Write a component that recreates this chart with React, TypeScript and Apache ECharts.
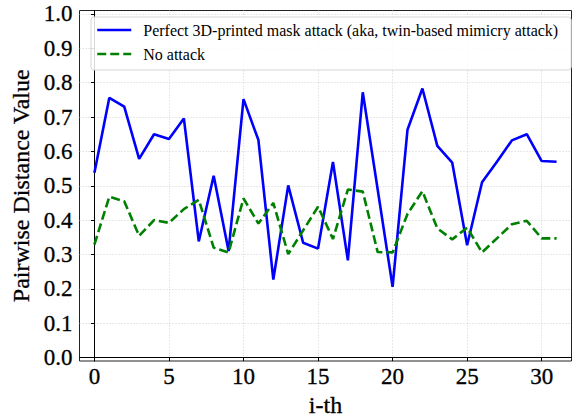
import React, { useEffect, useRef } from "react";
import * as echarts from "echarts";

const indices: number[] = Array.from({ length: 32 }, (_, i) => i);
const maskAttack: number[] = [0.538, 0.756, 0.730, 0.578, 0.650, 0.636, 0.696, 0.338, 0.529, 0.310, 0.752, 0.633, 0.227, 0.501, 0.334, 0.317, 0.569, 0.283, 0.772, 0.489, 0.206, 0.663, 0.783, 0.616, 0.567, 0.327, 0.510, 0.570, 0.632, 0.650, 0.572, 0.570];
const noAttack: number[] = [0.329, 0.468, 0.455, 0.354, 0.400, 0.392, 0.432, 0.459, 0.320, 0.306, 0.463, 0.390, 0.450, 0.301, 0.370, 0.439, 0.345, 0.489, 0.483, 0.307, 0.306, 0.418, 0.484, 0.376, 0.344, 0.378, 0.306, 0.347, 0.388, 0.398, 0.347, 0.347];
const xTicks: number[] = [0, 5, 10, 15, 20, 25, 30];
const yTicks: number[] = [0, 0.1, 0.2, 0.3, 0.4, 0.5, 0.6, 0.7, 0.8, 0.9, 1.0];
const seriesNames: string[] = ["Perfect 3D-printed mask attack (aka, twin-based mimicry attack)", "No attack"];
const xTitle = "i-th";
const yTitle = "Pairwise Distance Value";

const FONT = "Liberation Serif";

export default function App() {
  const ref = useRef<HTMLDivElement>(null);
  useEffect(() => {
    if (!ref.current) return;
    const chart = echarts.init(ref.current, null, { renderer: "svg" });
    const gridLine = { show: true, lineStyle: { color: "#c8c8c8", width: 0.8, type: [1, 2] as any } };
    const tickText = { fontFamily: FONT, fontSize: 23, color: "#000", textBorderColor: "#000", textBorderWidth: 0.3 };
    const titleText = { fontFamily: FONT, fontSize: 24, color: "#000", textBorderColor: "#000", textBorderWidth: 0.3 };
    chart.setOption({
      animation: false,
      backgroundColor: "#ffffff",
      textStyle: { fontFamily: FONT },
      grid: {
        left: 79.5,
        right: 7.5,
        top: 10.5,
        bottom: 56,
        containLabel: false,
        outerBoundsMode: "none",
        show: true,
        borderColor: "#222",
        borderWidth: 1,
        backgroundColor: "transparent",
      },
      legend: {
        orient: "vertical",
        left: 91,
        top: 17,
        data: seriesNames,
        itemWidth: 34,
        itemHeight: 14,
        itemGap: 8,
        padding: [5, 13, 8, 5],
        backgroundColor: "rgba(255,255,255,0.85)",
        borderColor: "#d6d6d6",
        borderWidth: 1,
        borderRadius: 3,
        itemStyle: { opacity: 0, color: "transparent", borderWidth: 0 },
        lineStyle: { width: 2.5 },
        textStyle: { fontFamily: FONT, fontSize: 16, color: "#000", padding: [0, 0, 0, 7] },
      },
      xAxis: {
        type: "value",
        min: -1,
        max: 32,
        name: xTitle,
        nameLocation: "middle",
        nameGap: 28,
        nameTextStyle: titleText,
        axisLine: { show: true, lineStyle: { color: "#000", width: 1 } },
        axisTick: { show: true, length: 3.5, customValues: xTicks, lineStyle: { color: "#000" } },
        axisLabel: {
          customValues: xTicks,
          margin: 4,
          ...tickText,
        },
        splitLine: gridLine,
      },
      yAxis: {
        type: "value",
        min: -0.01,
        max: 1.01,
        name: yTitle,
        nameLocation: "middle",
        nameGap: 41,
        nameTextStyle: titleText,
        axisLine: { show: true, lineStyle: { color: "#000", width: 1 } },
        axisTick: { show: true, length: 3.5, customValues: yTicks, lineStyle: { color: "#000" } },
        axisLabel: {
          customValues: yTicks,
          margin: 7,
          ...tickText,
          formatter: (v: number) => v.toFixed(1),
        },
        splitLine: gridLine,
      },
      series: [
        {
          name: seriesNames[0],
          type: "line",
          data: indices.map((i) => [i, maskAttack[i]]),
          showSymbol: false,
          symbol: "none",
          lineStyle: { color: "#0000ff", width: 2.6 },
          itemStyle: { color: "#0000ff" },
        },
        {
          name: seriesNames[1],
          type: "line",
          data: indices.map((i) => [i, noAttack[i]]),
          showSymbol: false,
          symbol: "none",
          lineStyle: { color: "#008000", width: 2.6, type: [9, 4] as any },
          itemStyle: { color: "#008000" },
        },
      ],
    });
    return () => chart.dispose();
  }, []);
  return (
    <div
      ref={ref}
      style={{ position: "fixed", left: 0, top: 0, width: 579, height: 417 }}
    />
  );
}
